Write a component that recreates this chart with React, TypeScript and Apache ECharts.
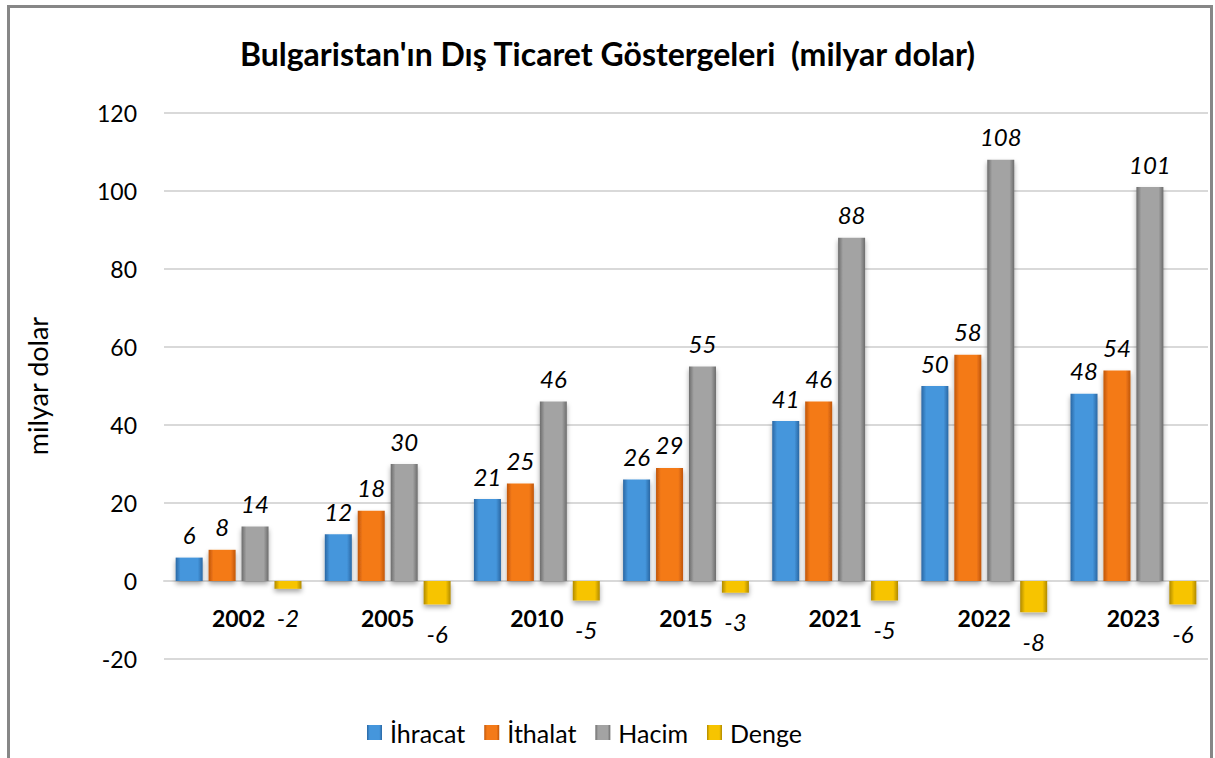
import React, { useEffect, useRef } from "react";
import * as echarts from "echarts";

const years = ["2002", "2005", "2010", "2015", "2021", "2022", "2023"];
const ihracat = [6, 12, 21, 26, 41, 50, 48];
const ithalat = [8, 18, 25, 29, 46, 58, 54];
const hacim = [14, 30, 46, 55, 88, 108, 101];
const denge = [-2, -6, -5, -3, -5, -8, -6];
const yTicks = { min: -20, max: 120, interval: 20 };

const FONT = "Lato, 'Noto Sans', sans-serif";

function grad(dark: string, light: string) {
  return new echarts.graphic.LinearGradient(0, 0, 1, 0, [
    { offset: 0, color: dark },
    { offset: 0.18, color: light },
    { offset: 0.82, color: light },
    { offset: 1, color: dark },
  ]);
}

export default function App() {
  const ref = useRef<HTMLDivElement>(null);
  useEffect(() => {
    document.body.style.margin = "0";
    const chart = echarts.init(ref.current!, undefined, { renderer: "svg" });
    const labelTop = {
      show: true,
      position: "top",
      distance: 11,
      fontStyle: "italic",
      fontSize: 24,
      color: "#000",
      fontFamily: FONT,
    };
    const shadow = {
      shadowColor: "rgba(0,0,0,0.35)",
      shadowBlur: 5,
      shadowOffsetY: 3,
    };
    const mk = (name: string, data: number[], dark: string, light: string, label: any) => ({
      name,
      type: "bar",
      data,
      barWidth: 27,
      barGap: "22%",
      itemStyle: { color: grad(dark, light), ...shadow },
      label,
    });
    chart.setOption({
      animation: false,
      backgroundColor: "#fff",
      title: {
        text: "Bulgaristan'ın Dış Ticaret Göstergeleri  (milyar dolar)",
        left: "center",
        top: 32,
        textStyle: { fontFamily: FONT, fontWeight: "bold", fontSize: 32, color: "#000" },
      },
      grid: { left: 164, right: 7, top: 113, bottom: 99, containLabel: false },
      legend: {
        bottom: 8,
        left: 362,
        icon: "rect",
        itemWidth: 15,
        itemHeight: 15,
        itemGap: 19,
        textStyle: { fontFamily: FONT, fontSize: 25, color: "#000", padding: [0, 0, 0, 3] },
        data: ["İhracat", "İthalat", "Hacim", "Denge"],
      },
      xAxis: {
        type: "category",
        data: years,
        offset: -78,
        axisLine: { onZero: false, lineStyle: { color: "#d9d9d9", width: 2 } },
        axisTick: { show: false },
        axisLabel: {
          margin: 25,
          fontFamily: FONT,
          fontWeight: "bold",
          fontSize: 23,
          color: "#000",
        },
      },
      yAxis: {
        type: "value",
        min: yTicks.min,
        max: yTicks.max,
        interval: yTicks.interval,
        axisLine: { show: false },
        axisTick: { show: false },
        splitLine: { lineStyle: { color: "#d9d9d9", width: 2 } },
        axisLabel: { margin: 27, fontFamily: FONT, fontSize: 23, color: "#000" },
      },
      graphic: [
        {
          type: "rect",
          shape: { x: 8.5, y: 6.5, width: 1203, height: 800 },
          style: { fill: "none", stroke: "#878787", lineWidth: 3 },
          silent: true,
        },
        {
          type: "text",
          x: 37,
          y: 386,
          rotation: Math.PI / 2,
          style: {
            text: "milyar dolar",
            fontFamily: FONT,
            fontSize: 27,
            fill: "#000",
            align: "center",
            verticalAlign: "middle",
          },
        },
      ],
      series: [
        mk("İhracat", ihracat, "#2a67a3", "#4596dc", labelTop),
        mk("İthalat", ithalat, "#c0560a", "#f47a18", labelTop),
        mk("Hacim", hacim, "#6c6c6c", "#a3a3a3", labelTop),
        mk("Denge", denge, "#b08a00", "#f7c400", { ...labelTop, position: "bottom", distance: 17 }),
      ],
    });
    return () => chart.dispose();
  }, []);
  return <div ref={ref} style={{ width: 1215, height: 758, position: "absolute", left: 0, top: 0 }} />;
}
